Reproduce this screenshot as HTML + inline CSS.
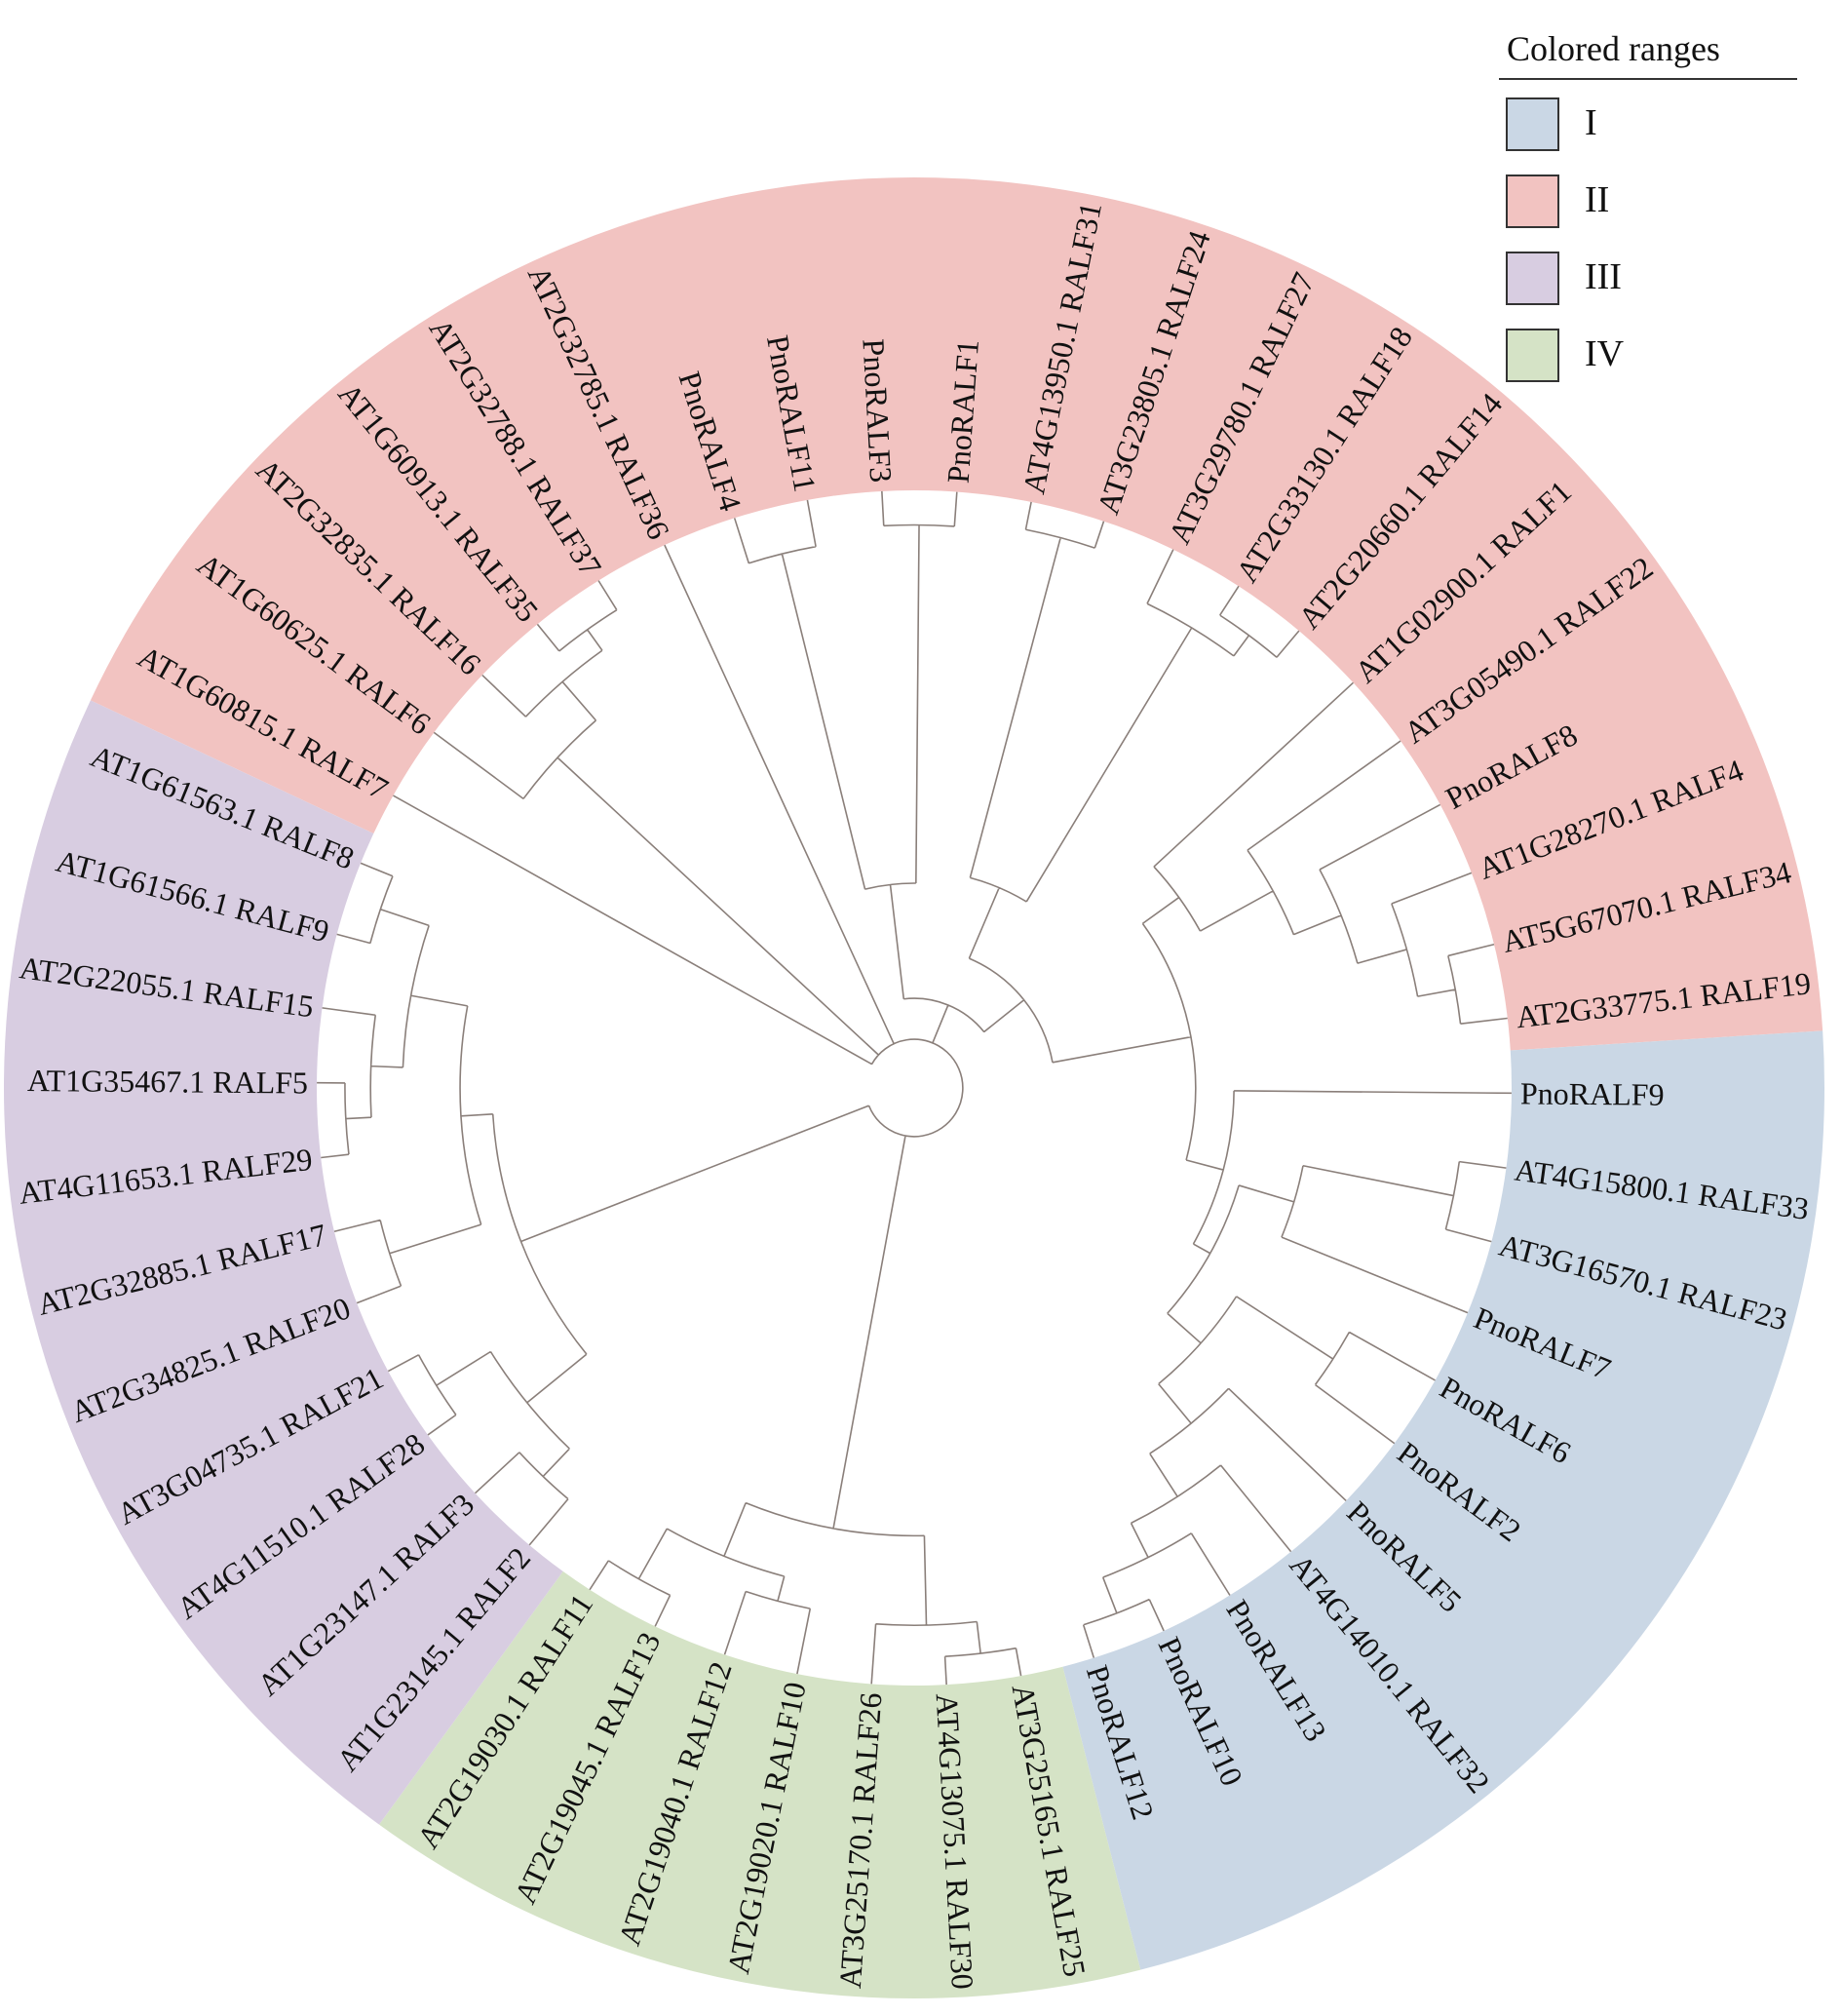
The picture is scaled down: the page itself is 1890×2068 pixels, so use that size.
<!DOCTYPE html>
<html><head><meta charset="utf-8"><style>
html,body{margin:0;padding:0;background:#fff;}
svg{display:block;}
text{font-family:"Liberation Serif",serif;fill:#111;}
.lb{font-size:32px;dominant-baseline:central;}
</style></head><body>
<svg id="s" width="1890" height="2068" viewBox="0 0 1890 2068" xmlns="http://www.w3.org/2000/svg">
<g id="ring"></g>
<g id="tree" fill="none" stroke="#8a7f7a" stroke-width="1.6"></g>
<g transform="translate(938,1116)">
<text class="lb" transform="rotate(-78.7) translate(622 0)">AT4G13950.1 RALF31</text>
<text class="lb" transform="rotate(-71.5) translate(622 0)">AT3G23805.1 RALF24</text>
<text class="lb" transform="rotate(-64.3) translate(622 0)">AT3G29780.1 RALF27</text>
<text class="lb" transform="rotate(-57.1) translate(622 0)">AT2G33130.1 RALF18</text>
<text class="lb" transform="rotate(-49.9) translate(622 0)">AT2G20660.1 RALF14</text>
<text class="lb" transform="rotate(-42.7) translate(622 0)">AT1G02900.1 RALF1</text>
<text class="lb" transform="rotate(-35.5) translate(622 0)">AT3G05490.1 RALF22</text>
<text class="lb" transform="rotate(-28.3) translate(622 0)">PnoRALF8</text>
<text class="lb" transform="rotate(-21.1) translate(622 0)">AT1G28270.1 RALF4</text>
<text class="lb" transform="rotate(-13.9) translate(622 0)">AT5G67070.1 RALF34</text>
<text class="lb" transform="rotate(-6.7) translate(622 0)">AT2G33775.1 RALF19</text>
<text class="lb" transform="rotate(0.5) translate(622 0)">PnoRALF9</text>
<text class="lb" transform="rotate(7.7) translate(622 0)">AT4G15800.1 RALF33</text>
<text class="lb" transform="rotate(14.9) translate(622 0)">AT3G16570.1 RALF23</text>
<text class="lb" transform="rotate(22.1) translate(622 0)">PnoRALF7</text>
<text class="lb" transform="rotate(29.3) translate(622 0)">PnoRALF6</text>
<text class="lb" transform="rotate(36.5) translate(622 0)">PnoRALF2</text>
<text class="lb" transform="rotate(43.7) translate(622 0)">PnoRALF5</text>
<text class="lb" transform="rotate(50.9) translate(622 0)">AT4G14010.1 RALF32</text>
<text class="lb" transform="rotate(58.1) translate(622 0)">PnoRALF13</text>
<text class="lb" transform="rotate(65.3) translate(622 0)">PnoRALF10</text>
<text class="lb" transform="rotate(72.5) translate(622 0)">PnoRALF12</text>
<text class="lb" transform="rotate(79.7) translate(622 0)">AT3G25165.1 RALF25</text>
<text class="lb" transform="rotate(86.9) translate(622 0)">AT4G13075.1 RALF30</text>
<g text-anchor="end">
<text class="lb" transform="rotate(274.1) translate(-622 0)">AT3G25170.1 RALF26</text>
<text class="lb" transform="rotate(281.3) translate(-622 0)">AT2G19020.1 RALF10</text>
<text class="lb" transform="rotate(288.5) translate(-622 0)">AT2G19040.1 RALF12</text>
<text class="lb" transform="rotate(295.7) translate(-622 0)">AT2G19045.1 RALF13</text>
<text class="lb" transform="rotate(302.9) translate(-622 0)">AT2G19030.1 RALF11</text>
<text class="lb" transform="rotate(310.1) translate(-622 0)">AT1G23145.1 RALF2</text>
<text class="lb" transform="rotate(317.3) translate(-622 0)">AT1G23147.1 RALF3</text>
<text class="lb" transform="rotate(324.5) translate(-622 0)">AT4G11510.1 RALF28</text>
<text class="lb" transform="rotate(331.7) translate(-622 0)">AT3G04735.1 RALF21</text>
<text class="lb" transform="rotate(338.9) translate(-622 0)">AT2G34825.1 RALF20</text>
<text class="lb" transform="rotate(346.1) translate(-622 0)">AT2G32885.1 RALF17</text>
<text class="lb" transform="rotate(353.3) translate(-622 0)">AT4G11653.1 RALF29</text>
<text class="lb" transform="rotate(360.5) translate(-622 0)">AT1G35467.1 RALF5</text>
<text class="lb" transform="rotate(7.7) translate(-622 0)">AT2G22055.1 RALF15</text>
<text class="lb" transform="rotate(14.9) translate(-622 0)">AT1G61566.1 RALF9</text>
<text class="lb" transform="rotate(22.1) translate(-622 0)">AT1G61563.1 RALF8</text>
<text class="lb" transform="rotate(29.3) translate(-622 0)">AT1G60815.1 RALF7</text>
<text class="lb" transform="rotate(36.5) translate(-622 0)">AT1G60625.1 RALF6</text>
<text class="lb" transform="rotate(43.7) translate(-622 0)">AT2G32835.1 RALF16</text>
<text class="lb" transform="rotate(50.9) translate(-622 0)">AT1G60913.1 RALF35</text>
<text class="lb" transform="rotate(58.1) translate(-622 0)">AT2G32788.1 RALF37</text>
<text class="lb" transform="rotate(65.3) translate(-622 0)">AT2G32785.1 RALF36</text>
<text class="lb" transform="rotate(72.5) translate(-622 0)">PnoRALF4</text>
<text class="lb" transform="rotate(79.7) translate(-622 0)">PnoRALF11</text>
<text class="lb" transform="rotate(86.9) translate(-622 0)">PnoRALF3</text>
</g>
<text class="lb" transform="rotate(274.1) translate(622 0)">PnoRALF1</text>
</g>
<text x="1546" y="62" font-size="36">Colored ranges</text>
<line x1="1538" y1="81" x2="1844" y2="81" stroke="#333" stroke-width="2"/>
<rect x="1546" y="101" width="53" height="53" fill="#cad7e5" stroke="#333" stroke-width="2"/>
<rect x="1546" y="180" width="53" height="53" fill="#f2c3c1" stroke="#333" stroke-width="2"/>
<rect x="1546" y="259" width="53" height="53" fill="#d8cde1" stroke="#333" stroke-width="2"/>
<rect x="1546" y="338" width="53" height="53" fill="#d5e3c6" stroke="#333" stroke-width="2"/>
<text x="1626" y="138" font-size="38">I</text>
<text x="1626" y="217" font-size="38">II</text>
<text x="1626" y="296" font-size="38">III</text>
<text x="1626" y="375" font-size="38">IV</text>
</svg>
<script>
(function(){
var cx=938,cy=1116,S=1.3125,RL=467*S;
function P(r,a){a=a*Math.PI/180;return [cx+r*Math.cos(a),cy+r*Math.sin(a)];}
function sector(r1,r2,a1,a2,c){
 var p1=P(r2,a1),p2=P(r2,a2),p3=P(r1,a2),p4=P(r1,a1),l=(a2-a1)>180?1:0;
 return '<path fill="'+c+'" d="M'+p1+' A'+r2+' '+r2+' 0 '+l+' 1 '+p2+' L'+p3+' A'+r1+' '+r1+' 0 '+l+' 0 '+p4+'Z"/>';
}
var r1=613,r2=934,h='';
h+=sector(r1,r2,205.2,356.4,'#f2c3c1');
h+=sector(r1,r2,-3.6,75.6,'#cad7e5');
h+=sector(r1,r2,75.6,126,'#d5e3c6');
h+=sector(r1,r2,126,205.2,'#d8cde1');
document.getElementById('ring').innerHTML=h;
function la(i){var a=7.2*i+0.5;return i<29?a+360:a;}
function N(r,c){return {r:r,c:c};}
var III=N(330,[N(355,[N(400,[N(440,[28,27]),N(425,[26,N(445,[25,24])])]),N(430,[23,22])]),N(390,[N(440,[21,20]),N(420,[19,18])])]);
III.c.reverse();III.c.forEach(function f(n){if(n.c){n.c.reverse();n.c.forEach(f);}});
var IV=N(350,[N(420,[N(445,[11,12]),13]),N(395,[N(415,[14,15]),N(440,[16,17])])]);
var I=N(250,[0,N(265,[N(310,[N(430,[1,2]),3]),N(300,[N(390,[4,5]),N(340,[6,N(380,[7,N(410,[8,N(440,[9,10])])])])])])]);
var G44=N(255,[44,N(320,[45,N(360,[46,N(400,[47,N(430,[48,49])])])])]);
var G39=N(170,[N(445,[39,40]),N(420,[41,N(440,[42,43])])]);
var right=N(110,[G39,N(220,[G44,I])]);
var Pno=N(160,[N(430,[35,36]),N(440,[37,38])]);
var top=N(70,[Pno,right]);
var left=N(380,[30,N(420,[31,N(440,[32,33])])]);
var root=N(38,[29,left,34,top,IV,III]);
var d='';
function ang(n){if(typeof n==='number')return la(n);
 if(n.a===undefined){n.a=(ang(n.c[0])+ang(n.c[n.c.length-1]))/2;}return n.a;}
function rad(n){return typeof n==='number'?RL:n.r*S;}
function draw(n){
 if(typeof n==='number')return;
 var r=n.r*S,a1=ang(n.c[0]),a2=ang(n.c[n.c.length-1]);
 var p1=P(r,a1),p2=P(r,a2);
 d+='M'+p1+' A'+r+' '+r+' 0 '+((a2-a1)>180?1:0)+' 1 '+p2+' ';
 n.c.forEach(function(c){var a=ang(c);d+='M'+P(r,a)+' L'+P(rad(c),a)+' ';draw(c);});
}
draw(root);
document.getElementById('tree').innerHTML='<path d="'+d+'"/>';
})();
</script>
</body></html>
